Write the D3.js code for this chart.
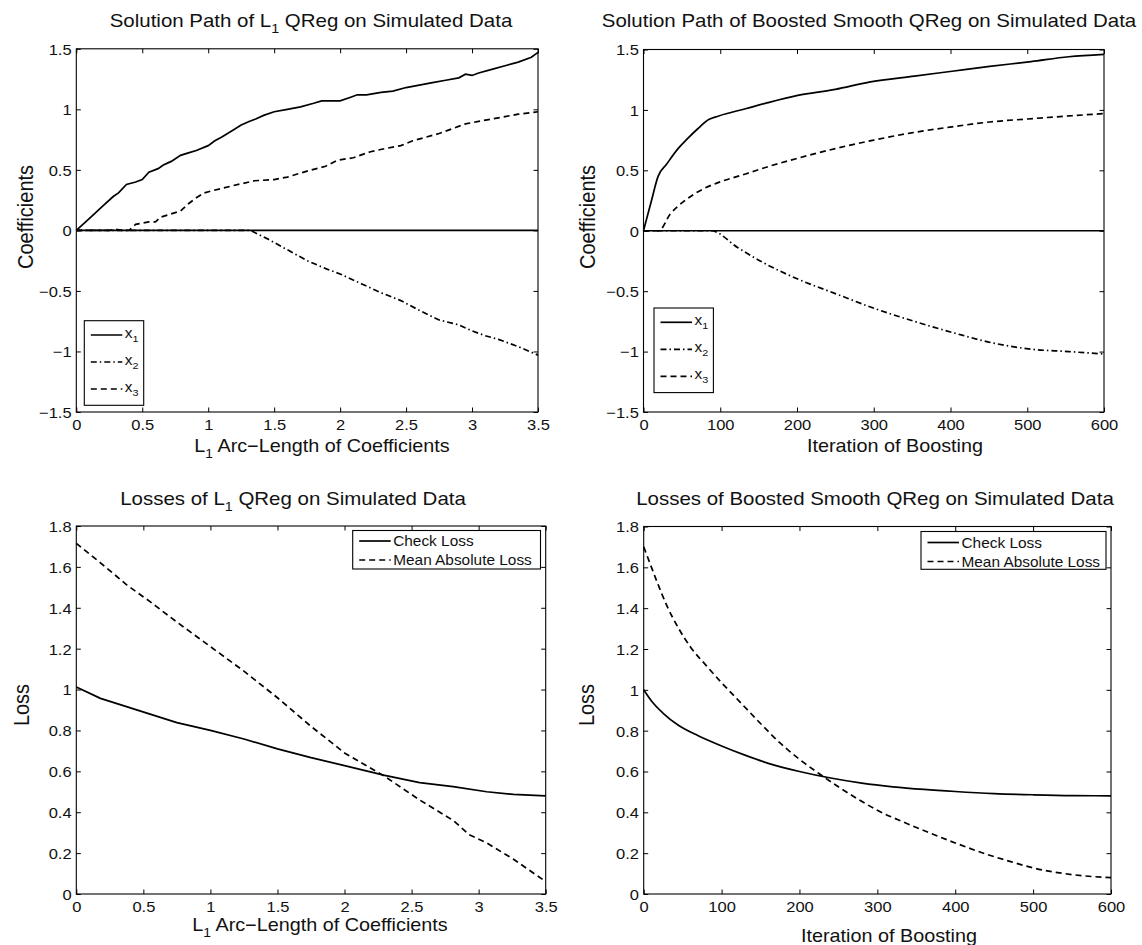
<!DOCTYPE html>
<html lang="en">
<head>
  <meta charset="UTF-8">
  <title>QReg solution paths and losses</title>
  <style>
    body { margin: 0; background: #fff; }
    text { font-family: "Liberation Sans", Arial, Helvetica, sans-serif; fill: #111; }
  </style>
</head>
<body>
  <svg width="1142" height="945" id="chart"></svg>
  <script src="https://cdn.jsdelivr.net/npm/d3@7"></script>
  <script>
    // ticks
    const arcTicks = [0, 0.5, 1, 1.5, 2, 2.5, 3, 3.5];
    const iterTicks = [0, 100, 200, 300, 400, 500, 600];
    const coefTicks = [-1.5, -1, -0.5, 0, 0.5, 1, 1.5];
    const lossTicks = [0, 0.2, 0.4, 0.6, 0.8, 1, 1.2, 1.4, 1.6, 1.8];

    // L1 QReg solution path: [arc length, coefficient]
    const l1X1 = [[0,0],[0.1,0.1],[0.2,0.2],[0.28,0.28],[0.32,0.31],[0.38,0.38],[0.45,0.4],[0.5,0.42],[0.55,0.48],
      [0.62,0.51],[0.66,0.54],[0.72,0.57],[0.79,0.62],[0.85,0.64],[0.91,0.66],[1.0,0.7],[1.05,0.74],[1.1,0.77],
      [1.19,0.83],[1.25,0.87],[1.31,0.9],[1.36,0.92],[1.42,0.95],[1.5,0.98],[1.6,1.0],[1.7,1.02],[1.8,1.05],
      [1.86,1.07],[2.0,1.07],[2.08,1.1],[2.13,1.12],[2.2,1.12],[2.31,1.14],[2.4,1.15],[2.5,1.18],[2.6,1.2],
      [2.7,1.22],[2.8,1.24],[2.9,1.26],[2.95,1.29],[3.0,1.28],[3.05,1.3],[3.15,1.33],[3.25,1.36],[3.35,1.39],
      [3.45,1.43],[3.5,1.47]];
    const l1X2 = [[0,0],[1.32,0],[1.45,-0.07],[1.6,-0.16],[1.75,-0.25],[1.9,-0.32],[2.0,-0.36],[2.16,-0.44],
      [2.3,-0.51],[2.46,-0.58],[2.6,-0.66],[2.75,-0.74],[2.9,-0.78],[3.0,-0.83],[3.1,-0.87],[3.2,-0.9],
      [3.35,-0.96],[3.5,-1.03]];
    const l1X3 = [[0,0],[0.25,0],[0.3,0.01],[0.35,0],[0.4,0],[0.45,0.05],[0.5,0.06],[0.55,0.07],[0.6,0.07],
      [0.64,0.11],[0.7,0.13],[0.79,0.16],[0.85,0.22],[0.91,0.27],[0.97,0.31],[1.04,0.33],[1.19,0.37],[1.35,0.41],
      [1.5,0.42],[1.6,0.44],[1.75,0.49],[1.89,0.53],[1.98,0.58],[2.1,0.6],[2.23,0.65],[2.36,0.68],[2.46,0.7],
      [2.55,0.74],[2.65,0.77],[2.75,0.8],[2.85,0.84],[2.95,0.88],[3.05,0.9],[3.15,0.92],[3.25,0.94],[3.35,0.96],
      [3.5,0.98]];
    const l1Zero = [[0,0],[3.5,0]];

    // boosted smooth QReg solution path: [iteration, coefficient]
    const bX1 = [[0,0],[10,0.24],[19,0.45],[30,0.55],[45,0.68],[57,0.76],[70,0.84],[85,0.92],[98,0.95],[133,1.01],
      [162,1.06],[201,1.12],[250,1.17],[294,1.23],[353,1.28],[402,1.32],[451,1.36],[505,1.4],[554,1.44],[600,1.46]];
    const bX2 = [[0,0],[88,0],[123,-0.14],[152,-0.25],[201,-0.4],[250,-0.52],[304,-0.65],[353,-0.75],[407,-0.85],
      [456,-0.93],[505,-0.98],[554,-1.0],[600,-1.02]];
    const bX3 = [[0,0],[20,0],[35,0.14],[54,0.25],[79,0.35],[98,0.4],[133,0.47],[162,0.53],[201,0.6],[250,0.68],
      [300,0.75],[349,0.81],[402,0.86],[451,0.9],[500,0.925],[554,0.95],[600,0.97]];
    const bZero = [[0,0],[600,0]];

    // losses
    const l1Check = [[0,1.013],[0.18,0.957],[0.38,0.915],[0.55,0.88],[0.75,0.838],[1.0,0.8],[1.25,0.758],[1.5,0.71],
      [1.75,0.667],[2.0,0.628],[2.3,0.58],[2.56,0.545],[2.81,0.525],[3.06,0.5],[3.26,0.487],[3.5,0.48]];
    const l1Mae = [[0,1.715],[0.18,1.62],[0.38,1.51],[0.55,1.43],[0.75,1.33],[1.0,1.21],[1.25,1.09],[1.5,0.96],
      [1.75,0.82],[2.0,0.69],[2.3,0.575],[2.56,0.46],[2.81,0.36],[2.93,0.29],[3.06,0.25],[3.26,0.17],[3.48,0.07]];
    const bCheck = [[0,1.0],[10,0.945],[25,0.885],[45,0.825],[70,0.775],[100,0.725],[130,0.68],[160,0.64],[200,0.6],
      [240,0.568],[280,0.543],[320,0.525],[360,0.512],[400,0.502],[450,0.492],[500,0.486],[550,0.482],[600,0.481]];
    const bMae = [[0,1.7],[8,1.62],[17,1.53],[30,1.41],[45,1.3],[60,1.21],[80,1.12],[100,1.035],[125,0.935],
      [150,0.835],[175,0.74],[200,0.66],[225,0.59],[250,0.525],[275,0.465],[300,0.41],[335,0.35],[370,0.295],
      [400,0.25],[440,0.195],[470,0.16],[500,0.128],[550,0.095],[600,0.08]];

    const svg = d3.select('#chart');
    const SX = 1.1; // text in the source figure is a bit wide
    const dash = {solid: null, dashed: '6,4', dashdot: '6,3,1.5,3'};
    const fmt = d => String(d).replace('-', '\u2212');

    // text with optional subscripts: parts = [[str, isSub], ...]
    function label(x, y, size, anchor, parts, rot) {
      let t = svg.append('text')
          .attr('transform', `translate(${x},${y}) scale(${SX},1)` + (rot ? ' rotate(-90)' : ''))
          .attr('font-size', size)
          .attr('text-anchor', anchor);
      let shift = 0;
      parts.forEach(p => {
        let want = p[1] ? size * 0.32 : 0;
        t.append('tspan')
            .attr('dy', want - shift)
            .attr('font-size', p[1] ? size * 0.7 : size)
            .text(p[0]);
        shift = want;
      });
      return t;
    }

    function panel(cfg) {
      let x = d3.scaleLinear().domain(cfg.xDomain).range([cfg.left, cfg.right]);
      let y = d3.scaleLinear().domain(cfg.yDomain).range([cfg.bottom, cfg.top]);
      let g = svg.append('g');

      let tidy = a => {
        a.attr('font-size', null).attr('font-family', null);
        a.select('.domain').remove();
        a.selectAll('line').attr('stroke', '#000');
      };
      g.append('g').attr('transform', `translate(0,${cfg.bottom})`)
          .call(d3.axisBottom(x).tickValues(cfg.xTicks).tickSizeInner(-4.5).tickSizeOuter(0).tickFormat(fmt))
          .call(tidy)
          .call(a => a.selectAll('text').attr('y', 18.5).attr('dy', null)
              .attr('transform', `scale(${SX},1)`).attr('font-size', 15));
      g.append('g').attr('transform', `translate(0,${cfg.top})`)
          .call(d3.axisTop(x).tickValues(cfg.xTicks).tickSizeInner(-4.5).tickSizeOuter(0).tickFormat(''))
          .call(tidy);
      g.append('g').attr('transform', `translate(${cfg.left},0)`)
          .call(d3.axisLeft(y).tickValues(cfg.yTicks).tickSizeInner(-4.5).tickSizeOuter(0).tickFormat(fmt))
          .call(tidy)
          .call(a => a.selectAll('text').attr('x', -4.7 / SX).attr('dy', '0.36em')
              .attr('transform', `scale(${SX},1)`).attr('font-size', 15));
      g.append('g').attr('transform', `translate(${cfg.right},0)`)
          .call(d3.axisRight(y).tickValues(cfg.yTicks).tickSizeInner(-4.5).tickSizeOuter(0).tickFormat(''))
          .call(tidy);

      let line = d3.line().x(d => x(d[0])).y(d => y(d[1]))
          .curve(cfg.smooth ? d3.curveMonotoneX : d3.curveLinear);
      g.selectAll('path.series').data(cfg.series).join('path')
          .attr('class', 'series')
          .attr('d', s => line(s.values))
          .attr('fill', 'none')
          .attr('stroke', '#000')
          .attr('stroke-width', 1.7)
          .attr('stroke-dasharray', s => dash[s.style]);

      g.append('rect')
          .attr('x', cfg.left).attr('y', cfg.top)
          .attr('width', cfg.right - cfg.left).attr('height', cfg.bottom - cfg.top)
          .attr('fill', 'none').attr('stroke', '#000').attr('stroke-width', 1.1);

      // legend
      let L = cfg.legend;
      g.append('rect')
          .attr('x', L.x0).attr('y', L.y0).attr('width', L.x1 - L.x0).attr('height', L.y1 - L.y0)
          .attr('fill', '#fff').attr('stroke', '#000').attr('stroke-width', 1.1);
      L.items.forEach((it, i) => {
        let ly = L.rowY + i * L.step;
        g.append('line')
            .attr('x1', L.x0 + 6.5).attr('x2', L.x0 + 38).attr('y1', ly).attr('y2', ly)
            .attr('stroke', '#000').attr('stroke-width', 1.7)
            .attr('stroke-dasharray', dash[it.style]);
        label(L.x0 + 40.5, ly + L.textDy, 14, 'start', it.text);
      });

      label(cfg.titleX, cfg.titleY, 18.6, 'middle', cfg.title);
      label(cfg.xLabelX, cfg.xLabelY, 18, 'middle', cfg.xLabel);
      label(cfg.yLabelX, cfg.yLabelY, 20, 'middle', cfg.yLabel, true);
    }

    const coefLegend = [
      {style: 'solid', text: [['x'], ['1', true]]},
      {style: 'dashdot', text: [['x'], ['2', true]]},
      {style: 'dashed', text: [['x'], ['3', true]]}
    ];
    const lossLegend = [
      {style: 'solid', text: [['Check Loss']]},
      {style: 'dashed', text: [['Mean Absolute Loss']]}
    ];

    panel({
      left: 76.3, right: 538, top: 48.8, bottom: 412,
      xDomain: [0, 3.5], yDomain: [-1.5, 1.5], xTicks: arcTicks, yTicks: coefTicks,
      series: [{values: l1Zero, style: 'solid'}, {values: l1X1, style: 'solid'},
               {values: l1X2, style: 'dashdot'}, {values: l1X3, style: 'dashed'}],
      legend: {x0: 84.3, x1: 143.7, y0: 320.7, y1: 405.3, rowY: 335, step: 27, textDy: 2.5, items: coefLegend},
      title: [['Solution Path of L'], ['1', true], [' QReg on Simulated Data']], titleX: 311, titleY: 27,
      xLabel: [['L'], ['1', true], [' Arc\u2212Length of Coefficients']], xLabelX: 322, xLabelY: 452,
      yLabel: [['Coefficients']], yLabelX: 33, yLabelY: 217
    });

    panel({
      left: 643.5, right: 1104, top: 49.5, bottom: 412, smooth: true,
      xDomain: [0, 600], yDomain: [-1.5, 1.5], xTicks: iterTicks, yTicks: coefTicks,
      series: [{values: bZero, style: 'solid'}, {values: bX1, style: 'solid'},
               {values: bX2, style: 'dashdot'}, {values: bX3, style: 'dashed'}],
      legend: {x0: 654, x1: 713.4, y0: 308, y1: 392.6, rowY: 322.3, step: 27, textDy: 2.5, items: coefLegend},
      title: [['Solution Path of Boosted Smooth QReg on Simulated Data']], titleX: 869, titleY: 27,
      xLabel: [['Iteration of Boosting']], xLabelX: 895, xLabelY: 452,
      yLabel: [['Coefficients']], yLabelX: 595, yLabelY: 217
    });

    panel({
      left: 76.3, right: 545.7, top: 526, bottom: 894,
      xDomain: [0, 3.5], yDomain: [0, 1.8], xTicks: arcTicks, yTicks: lossTicks,
      series: [{values: l1Check, style: 'solid'}, {values: l1Mae, style: 'dashed'}],
      legend: {x0: 352.7, x1: 540.5, y0: 530.5, y1: 569, rowY: 541, step: 19, textDy: 5, items: lossLegend},
      title: [['Losses of L'], ['1', true], [' QReg on Simulated Data']], titleX: 293, titleY: 505,
      xLabel: [['L'], ['1', true], [' Arc\u2212Length of Coefficients']], xLabelX: 320, xLabelY: 931,
      yLabel: [['Loss']], yLabelX: 28.5, yLabelY: 705
    });

    panel({
      left: 643.7, right: 1111, top: 526.5, bottom: 894, smooth: true,
      xDomain: [0, 600], yDomain: [0, 1.8], xTicks: iterTicks, yTicks: lossTicks,
      series: [{values: bCheck, style: 'solid'}, {values: bMae, style: 'dashed'}],
      legend: {x0: 921, x1: 1106, y0: 531.5, y1: 569.3, rowY: 542.5, step: 19, textDy: 5, items: lossLegend},
      title: [['Losses of Boosted Smooth QReg on Simulated Data']], titleX: 875, titleY: 505,
      xLabel: [['Iteration of Boosting']], xLabelX: 889, xLabelY: 942,
      yLabel: [['Loss']], yLabelX: 594, yLabelY: 705
    });
  </script>
</body>
</html>
